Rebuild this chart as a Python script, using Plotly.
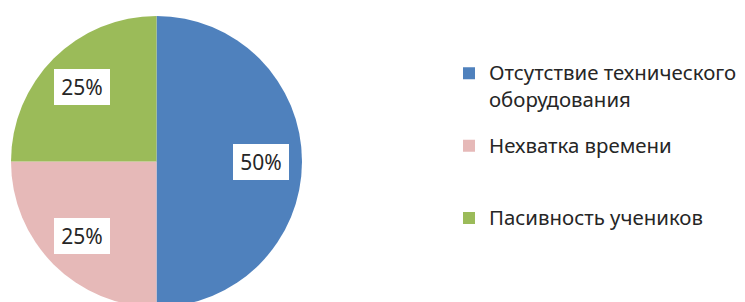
import math
import plotly.graph_objects as go

categories = ["Отсутствие технического оборудования", "Нехватка времени", "Пасивность учеников"]
values = [50, 25, 25]
colors = ["#4F81BD", "#E6B9B8", "#9BBB59"]
label_texts = ["50%", "25%", "25%"]

# page offset (body margin) compensation; figure coordinates
W, H = 737, 310
cx, cy, r = 148.5, 153.5, 145.5

SP = "<span style='font-size:20.4px'>{}</span>"
legend_names = [
    SP.format("Отсутствие технического") + "<br><sub>" + SP.format("оборудования") + "</sub><br> ",
    SP.format("Нехватка времени") + "<br> <br> ",
    SP.format("Пасивность учеников") + "<br> <br> ",
]

dom_x = [(cx - r) / W, (cx + r) / W]
dom_y = [1 - (cy + r) / H, 1 - (cy - r) / H]

fig = go.Figure(go.Pie(
    labels=legend_names, values=values, sort=False, direction="clockwise", rotation=0,
    marker=dict(colors=colors, line=dict(width=0)),
    textinfo="none", hoverinfo="percent",
    domain=dict(x=dom_x, y=dom_y),
))

total = sum(values)
cum = 0
for v, t in zip(values, label_texts):
    mid = (cum + v / 2) / total * 2 * math.pi
    cum += v
    rr = 0.72 * r
    px = cx + rr * math.sin(mid)
    py = cy - rr * math.cos(mid)
    fig.add_annotation(x=px / W, y=1 - py / H, xref="paper", yref="paper", text=t,
                       xanchor="center", yanchor="middle",
                       showarrow=False, bgcolor="white", borderpad=1, borderwidth=0,
                       width=54, height=34,
                       font=dict(family="Noto Sans", size=21, color="#262626"))

fig.update_layout(
    width=W, height=H, margin=dict(l=0, r=0, t=0, b=0, autoexpand=False),
    paper_bgcolor="white", plot_bgcolor="white",
    legend=dict(x=441 / W, y=0.8477, xanchor="left", yanchor="top", valign="top",
                font=dict(family="Noto Sans", size=17.8, color="#262626"),
                itemwidth=30, tracegroupgap=0),
)
fig.write_html("out.html")
